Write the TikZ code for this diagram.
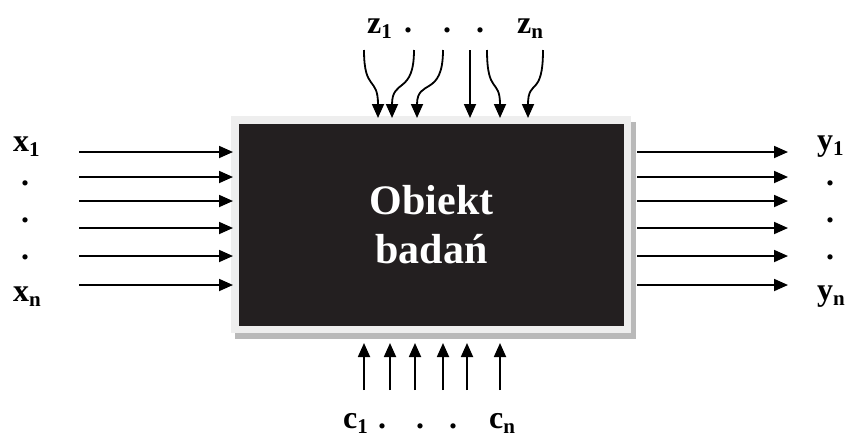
\documentclass[tikz,border=0pt]{standalone}
\usepackage{fontspec}
\setmainfont{Liberation Serif}
\usetikzlibrary{arrows.meta}
\definecolor{boxblack}{RGB}{35,31,32}
\definecolor{framegray}{RGB}{238,238,238}
\definecolor{shadowgray}{RGB}{185,185,185}
\newcommand{\lab}[2]{#1\raisebox{-0.16em}{\fontsize{21}{21}\selectfont #2}}
\tikzset{
  arr/.style={line width=1.8pt, -{Triangle[length=14pt,width=12pt]}},
  lbl/.style={font=\fontsize{32}{32}\selectfont\bfseries, inner sep=0pt, anchor=base west},
  dotl/.style={font=\fontsize{32}{32}\selectfont\bfseries, inner sep=0pt},
}
\begin{document}
\begin{tikzpicture}[x=1pt,y=-1pt]
\useasboundingbox (0,0) rectangle (846,437);
% shadow, frame, box
\fill[shadowgray] (235,122) rectangle (636,339);
\node[fill=framegray, minimum width=400pt, minimum height=217pt, inner sep=0pt, outer sep=0pt] (frame) at (431,224.5) {};
\node[fill=boxblack, minimum width=385pt, minimum height=202pt, inner sep=0pt, text=white,
      font=\fontsize{42}{49}\selectfont\bfseries, align=center] (box) at (431.5,225) {Obiekt\\badań};
% left inputs
\foreach \y in {152,177,201,228,256,285} {
  \coordinate (l\y) at (79,\y);
  \draw[arr] (l\y) -- ([xshift=2pt]frame.west |- l\y);
}
% right outputs
\foreach \y in {152,177,201,228,256,285} {
  \coordinate (r\y) at (788,\y);
  \draw[arr] ([xshift=6pt]frame.east |- r\y) -- (r\y);
}
% top inputs
\coordinate (t1s) at (364,50); \coordinate (t1e) at (378,118);
\coordinate (t2s) at (414,50); \coordinate (t2e) at (392,118);
\coordinate (t3s) at (443,50); \coordinate (t3e) at (417,118);
\coordinate (t4s) at (470,50); \coordinate (t4e) at (470,118);
\coordinate (t5s) at (487,50); \coordinate (t5e) at (500,118);
\coordinate (t6s) at (543,50); \coordinate (t6e) at (528,118);
\draw[arr] (t1s) .. controls (364,92) and (378,76) .. (t1e);
\draw[arr] (t2s) .. controls (414,95) and (392,78) .. (t2e);
\draw[arr] (t3s) .. controls (443,98) and (417,78) .. (t3e);
\draw[arr] (t4s) -- (t4e);
\draw[arr] (t5s) .. controls (487,95) and (500,78) .. (t5e);
\draw[arr] (t6s) .. controls (543,98) and (528,78) .. (t6e);
% bottom inputs
\foreach \x [count=\i] in {364,390,415,443,467,500} {
  \coordinate (b\i s) at (\x,390);
  \coordinate (b\i e) at (\x,343);
  \draw[arr] (b\i s) -- (b\i e);
}
% labels left
\node[lbl] (x1) at (13,151) {\lab{x}{1}};
\node[dotl] (xd1) at (25,183) {.};
\node[dotl] (xd2) at (25,220) {.};
\node[dotl] (xd3) at (25,257) {.};
\node[lbl] (xn) at (13,301) {\lab{x}{n}};
% labels right
\node[lbl] (y1) at (817,150) {\lab{y}{1}};
\node[dotl] (yd1) at (830,183) {.};
\node[dotl] (yd2) at (830,220) {.};
\node[dotl] (yd3) at (830,257) {.};
\node[lbl] (yn) at (817,300) {\lab{y}{n}};
% labels top
\node[lbl] (z1) at (367,33) {\lab{z}{1}};
\node[dotl] (zd1) at (408,30) {.};
\node[dotl] (zd2) at (447,30) {.};
\node[dotl] (zd3) at (480,30) {.};
\node[lbl] (zn) at (517,33) {\lab{z}{n}};
% labels bottom
\node[lbl] (c1) at (343,428) {\lab{c}{1}};
\node[dotl] (cd1) at (382,426) {.};
\node[dotl] (cd2) at (420,426) {.};
\node[dotl] (cd3) at (453,426) {.};
\node[lbl] (cn) at (489,428) {\lab{c}{n}};
\end{tikzpicture}
\end{document}
